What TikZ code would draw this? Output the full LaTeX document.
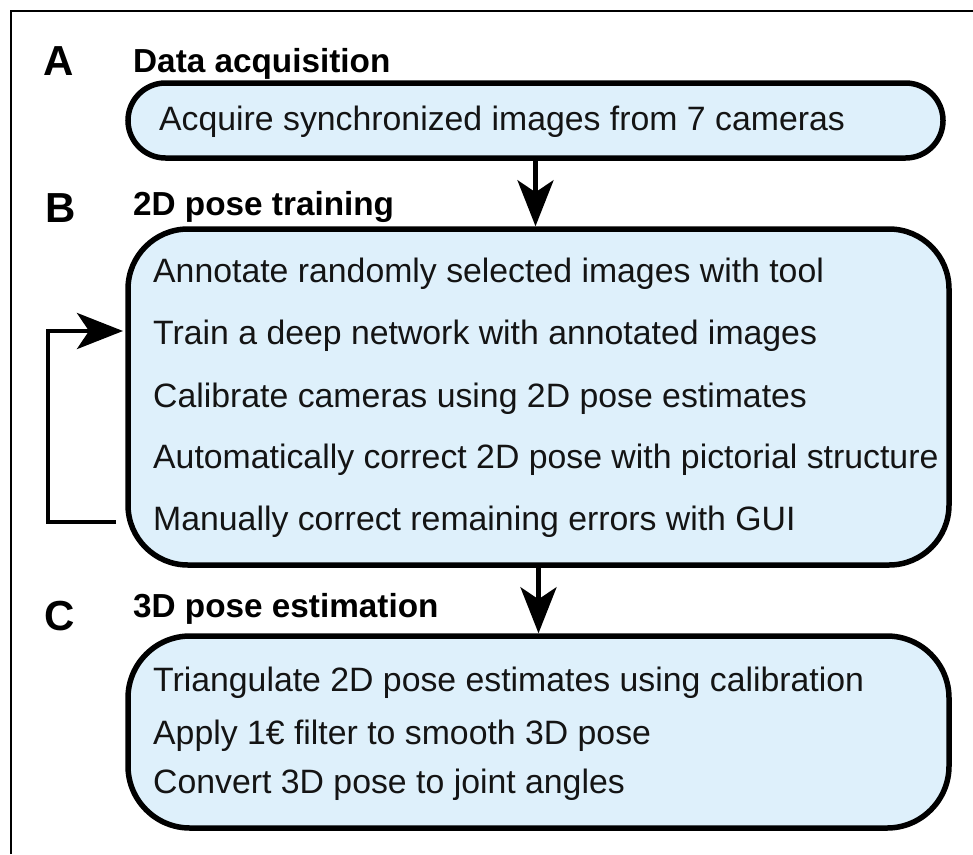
\documentclass[tikz,border=0pt]{standalone}
\usepackage{fontspec}
\setmainfont{Liberation Sans}
\usetikzlibrary{arrows.meta}
\definecolor{boxfill}{RGB}{222,240,251}
\definecolor{txt}{RGB}{20,20,20}
\tikzset{
  flowbox/.style={draw=black, fill=boxfill, line width=5.5pt, inner sep=0pt},
  bodytxt/.style={anchor=base west, inner sep=0pt, text=txt, font=\fontsize{33.8}{40}\selectfont},
  headtxt/.style={anchor=base west, inner sep=0pt, text=black, font=\fontsize{33.3}{40}\selectfont\bfseries},
  paneltxt/.style={anchor=base west, inner sep=0pt, text=black, font=\fontsize{42}{48}\selectfont\bfseries},
  flowarr/.style={line width=4.5pt, draw=black, -{Stealth[length=46pt,width=36pt,inset=12pt]}},
}
\begin{document}
\begin{tikzpicture}[x=1pt,y=-1pt]
\useasboundingbox (0,0) rectangle (973,854);
% frame
\draw[line width=1.3pt] (11,854) -- (11,11) -- (973,11);

% panel labels and headings
\node[paneltxt] (lA) at (43,75) {A};
\node[paneltxt] (lB) at (45,222) {B};
\node[paneltxt] (lC) at (44,630) {C};
\node[headtxt] (hA) at (133,72) {Data acquisition};
\node[headtxt] (hB) at (133,215) {2D pose training};
\node[headtxt] (hC) at (133,617) {3D pose estimation};

% boxes
\node[flowbox, minimum width=815pt, minimum height=75pt, rounded corners=37.5pt] (boxA) at (535.5,120.5) {};
\node[flowbox, minimum width=821pt, minimum height=336pt, rounded corners=60pt] (boxB) at (538.5,397) {};
\node[flowbox, minimum width=821pt, minimum height=192pt, rounded corners=62pt] (boxC) at (538.5,732) {};

% box texts
\node[bodytxt] (tA) at (159,130) {Acquire synchronized images from 7 cameras};

\node[bodytxt] (b1) at (153,282) {Annotate randomly selected images with tool};
\node[bodytxt] (b2) at (153,344) {Train a deep network with annotated images};
\node[bodytxt] (b3) at (153,407) {Calibrate cameras using 2D pose estimates};
\node[bodytxt] (b4) at (153,468) {Automatically correct 2D pose with pictorial structure};
\node[bodytxt] (b5) at (153,530) {Manually correct remaining errors with GUI};

\node[bodytxt] (c1) at (153,691) {Triangulate 2D pose estimates using calibration};
\node[bodytxt] (c2) at (153,744) {Apply 1€ filter to smooth 3D pose};
\node[bodytxt] (c3) at (153,793) {Convert 3D pose to joint angles};

% connectors
\draw[flowarr] (boxA.south) -- (boxA.south |- boxB.north);
\draw[flowarr] (boxB.south) -- (boxB.south |- boxC.north);

\coordinate (fbstart) at (116,522);
\coordinate (fbleft) at (48,426);
\coordinate (fbend) at (123,331);
\draw[flowarr] (fbstart) -| (fbleft) |- (fbend);
\end{tikzpicture}
\end{document}
